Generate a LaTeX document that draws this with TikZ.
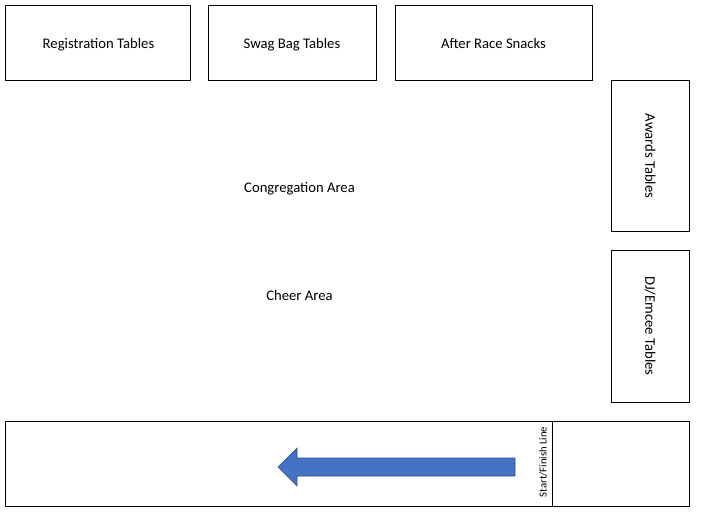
\documentclass[tikz,border=0pt]{standalone}
\usepackage{fontspec}
\setmainfont{Carlito}
\begin{document}
\begin{tikzpicture}[x=1pt,y=-1pt,
  area/.style={draw=black,line width=1pt},
  lbl/.style={font=\fontsize{14.67}{17}\selectfont,inner sep=0pt,text height=0.632em,text depth=0pt},
  smalllbl/.style={font=\fontsize{10.67}{12}\selectfont,inner sep=0pt,text height=0.632em,text depth=0pt}]
\useasboundingbox (0,0) rectangle (701,513);
% top tables
\draw[area] (5,6) rectangle (190,81);
\node[lbl] (reg) at (98.5,45) {Registration Tables};
\draw[area] (208,6) rectangle (376,81);
\node[lbl] (swag) at (292,45) {Swag Bag Tables};
\draw[area] (395,6) rectangle (592,81);
\node[lbl] (snacks) at (493.5,45) {After Race Snacks};
% right side tables
\draw[area] (611,81) rectangle (689,231);
\node[lbl,rotate=-90] (awards) at (648.5,156) {Awards Tables};
\draw[area] (611,250) rectangle (689,402);
\node[lbl,rotate=-90] (dj) at (648.5,326) {DJ/Emcee Tables};
% areas
\node[lbl] (cong) at (299.5,189) {Congregation Area};
\node[lbl] (cheer) at (299.5,297) {Cheer Area};
% bottom strip
\draw[area] (5,421) rectangle (689,506);
\draw[area] (552,421) -- (552,506);
\node[smalllbl,rotate=90] (sf) at (543.5,462) {Start/Finish Line};
% arrow
\fill[fill={rgb,255:red,68;green,114;blue,196},draw={rgb,255:red,47;green,82;blue,143},line width=0.6pt]
  (515,458) -- (297,458) -- (297,448) -- (278,467) -- (297,486) -- (297,476) -- (515,476) -- cycle;
\end{tikzpicture}
\end{document}
